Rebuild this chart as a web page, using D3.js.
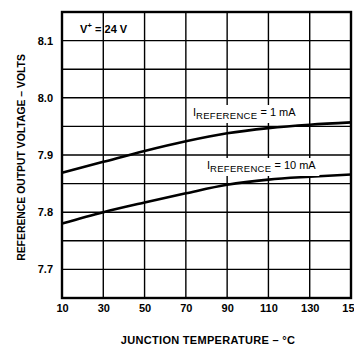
<!DOCTYPE html>
<html><head><meta charset="utf-8">
<script src="https://cdn.jsdelivr.net/npm/d3@7"></script>
<style>
html,body{margin:0;padding:0;background:#fff;}
svg{display:block;}
text{font-family:"Liberation Sans",Arial,sans-serif;fill:#000;}
</style></head>
<body>
<svg id="c" width="354" height="345"></svg>
<script>
const temps = [10, 30, 50, 70, 90, 110, 130, 150];
const v1mA  = [7.869, 7.888, 7.907, 7.924, 7.938, 7.947, 7.953, 7.957];
const v10mA = [7.780, 7.800, 7.817, 7.833, 7.848, 7.857, 7.862, 7.866];
const xTicks = [10, 30, 50, 70, 90, 110, 130, 150];
const yGrid = [7.65, 7.70, 7.75, 7.80, 7.85, 7.90, 7.95, 8.00, 8.05, 8.10, 8.15];
const yTickLabels = [7.7, 7.8, 7.9, 8.0, 8.1];
const xTitle = "JUNCTION TEMPERATURE \u2013 \u00B0C";
const yTitle = "REFERENCE OUTPUT VOLTAGE \u2013 VOLTS";

const svg = d3.select("#c");
const x = d3.scaleLinear().domain([10, 150]).range([62, 351]);
const y = d3.scaleLinear().domain([7.65, 8.15]).range([298, 12]);

// grid
const g = svg.append("g");
g.selectAll("line.v").data(xTicks).join("line")
  .attr("x1", d => x(d)).attr("x2", d => x(d))
  .attr("y1", y(8.15)).attr("y2", y(7.65))
  .attr("stroke", "#000").attr("stroke-width", 1.4);
g.selectAll("line.h").data(yGrid).join("line")
  .attr("x1", x(10)).attr("x2", x(150))
  .attr("y1", d => y(d)).attr("y2", d => y(d))
  .attr("stroke", "#000").attr("stroke-width", 1.4);
svg.append("rect").attr("x", x(10)).attr("y", y(8.15))
  .attr("width", x(150) - x(10)).attr("height", y(7.65) - y(8.15))
  .attr("fill", "none").attr("stroke", "#000").attr("stroke-width", 2.4);

// axes labels
const xAxis = d3.axisBottom(x).tickValues(xTicks).tickSize(0).tickPadding(6).tickFormat(d3.format("d"));
const xa = svg.append("g").attr("transform", `translate(0,${y(7.65)})`).call(xAxis);
xa.select(".domain").remove();
xa.selectAll("text").attr("font-size", 11).attr("font-weight", "bold")
  .style("font-family", '"Liberation Sans",Arial,sans-serif');
const yAxis = d3.axisLeft(y).tickValues(yTickLabels).tickSize(0).tickPadding(9).tickFormat(d3.format(".1f"));
const ya = svg.append("g").attr("transform", `translate(${x(10)},0)`).call(yAxis);
ya.select(".domain").remove();
ya.selectAll("text").attr("font-size", 11).attr("font-weight", "bold")
  .style("font-family", '"Liberation Sans",Arial,sans-serif');

// curves
const line = d3.line().x((d, i) => x(temps[i])).y(d => y(d)).curve(d3.curveMonotoneX);
[v1mA, v10mA].forEach(s => {
  svg.append("path").datum(s).attr("d", line)
    .attr("fill", "none").attr("stroke", "#000").attr("stroke-width", 2.6);
});

// in-chart labels
function refLabel(px, py, val) {
  const t = svg.append("text").attr("x", px).attr("y", py).attr("font-size", 11);
  t.append("tspan").text("I");
  t.append("tspan").attr("font-size", 9.5).attr("dy", 3).attr("letter-spacing", 0.3).text("REFERENCE");
  t.append("tspan").attr("dy", -3).text(" = " + val);
  const b = t.node().getBBox();
  svg.insert("rect", () => t.node())
    .attr("x", b.x - 3).attr("y", b.y - 1).attr("width", b.width + 6).attr("height", b.height + 3)
    .attr("fill", "#fff");
}
refLabel(193, 116, "1 mA");
refLabel(207, 169, "10 mA");

const vt = svg.append("text").attr("x", 80).attr("y", 33).attr("font-size", 11).attr("font-weight", "bold");
vt.append("tspan").text("V");
vt.append("tspan").attr("font-size", 8).attr("dy", -5).text("+");
vt.append("tspan").attr("dy", 5).text(" = 24 V");

// titles
svg.append("text").attr("x", 208).attr("y", 344).attr("text-anchor", "middle")
  .attr("font-size", 11).attr("letter-spacing", 0.3).attr("font-weight", "bold").text(xTitle);
svg.append("text").attr("transform", "translate(25,157.5) rotate(-90)").attr("text-anchor", "middle")
  .attr("font-size", 10.4).attr("font-weight", "bold").text(yTitle);
</script>
</body></html>
